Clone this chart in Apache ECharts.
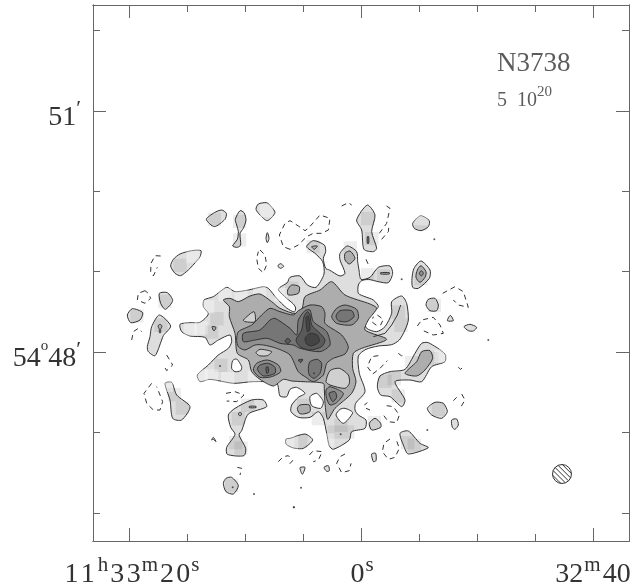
<!DOCTYPE html>
<html>
<head>
<meta charset="utf-8">
<title>N3738</title>
<script src="https://cdn.jsdelivr.net/npm/echarts@6/dist/echarts.min.js"></script>
<style>
html, body { margin: 0; padding: 0; background: #fff; }
#main { width: 632px; height: 588px; }
</style>
</head>
<body>
<div id="main"></div>
<script>
// all positions are sky offsets in arcsec from 11h33m00s, 54d48m (east is +x)
const raMajor = [174, 0, -174];
const raMinor = [130.5, 87, 43.5, -43.5, -87, -130.5];
const decMajor = [180.9, 0];
const decMinor = [241.2, 120.6, 60.3, -60.3, -120.6];

// outermost positive contour
const level1 = [
  [[135.75,20.75],[128.25,22],[120.75,22.25],[114.5,28.5],[118.25,34],[117.75,39],[110.75,41.5],[100.75,48.5],[94.5,45.25],[84.5,46.5],[73.25,49],[69.5,47.75],[63.25,40.25],[55.75,33],[50,30],[49,33],[50.75,36],[55.75,40.25],[62,46.5],[60.75,48.5],[55.25,52],[53.25,56],[45.75,57],[40.25,50.25],[33.75,48.5],[27.75,58.5],[28.75,67.75],[34.5,74],[40.75,79],[35.75,83.5],[27.5,80.25],[26.5,75.25],[28.25,70.25],[26.5,62.75],[23.75,61.5],[15.75,57],[12,59],[15.75,69],[15.75,74],[10.25,79.5],[3.25,75.25],[2.5,67.75],[1.5,61.5],[0,54.5],[-6.75,56],[-13,63.5],[-21.75,64.5],[-23.75,59],[-20.5,52],[-13,52.75],[-5.5,54.5],[-0.5,53.5],[2,50.25],[2,44],[-3,41.5],[-9.25,39],[-13,34],[-8,29],[-3,22.75],[-4.25,17.75],[-11.75,15.25],[-18,19],[-23,29],[-23,37.75],[-30.5,42],[-34.25,36.5],[-35.5,24],[-33,16.5],[-28.75,9],[-23,5.5],[-13,4.5],[-3.75,2],[2,-3],[1.25,-16],[-3,-29.75],[4,-38.5],[4.5,-43.5],[2,-47.25],[-3.75,-51],[-3,-57.25],[7,-59.75],[8.75,-66],[20.75,-73],[23.75,-70.5],[25.75,-61],[28.25,-49.75],[32,-44.75],[38.25,-49],[47,-49],[52.5,-44.75],[52,-39.75],[47,-34],[42,-31],[48.25,-26.5],[53.25,-28],[55.75,-33.5],[60.75,-33],[63.25,-23.5],[80.75,-22.25],[95.75,-23.5],[113.25,-20.5],[120.75,-22.25],[122.75,-17.25],[114.5,-9.75],[107,-2.25],[99.5,2.75],[97,7.75],[98.25,12.75],[107,9],[113.25,5.25],[117,11],[128.25,12],[134.5,15.25]],
  [[116,99.5],[110,104.5],[104.5,106.5],[101,104],[102,99.5],[110,94]],
  [[90.75,106],[87.75,104.5],[86.25,99],[88.25,92.75],[90.75,89],[90.25,80.25],[92.75,78.5],[96.25,79.5],[92.75,84.5],[92,90.25],[93.25,95.25],[94.25,99.5]],
  [[78.75,107],[77,111],[70.75,112],[67.75,109.5],[64.5,104.5],[70.25,98.5],[75.75,102.75]],
  [[70.25,89.5],[69,85.25],[70.25,82],[71.25,85.25]],
  [[142.75,64.5],[140.75,69.5],[135.75,73.5],[127,76],[120,76],[120.75,71.5],[125.25,66],[129.5,61.5],[135.25,57.25],[139.5,59]],
  [[62.5,64.5],[60.25,66.25],[58,64.25],[60.25,62.75]],
  [[151.25,44],[145.25,44.5],[141.25,38.5],[146.75,32],[150.25,36.5]],
  [[175.25,27.75],[171.5,32.5],[163.75,29.5],[165.75,24],[172.75,22]],
  [[157,19],[151.25,27.75],[142.75,19.5],[148.25,12.25],[149.5,9],[154.5,-2.75],[159.5,0.25],[160.25,4],[158.25,11.5]],
  [[3.25,99],[-4.75,110.25],[-10.5,102.75],[-8,90.25],[-11.75,77.75],[-9.25,75.25],[-2.25,77],[-0.5,91.5]],
  [[-38.75,96.5],[-44.75,102.25],[-51.25,98.5],[-50.5,94],[-45,91],[-40,92.75]],
  [[-38.25,55.25],[-39.75,62.75],[-45,68.25],[-51.75,61.5],[-51.25,55.25],[-43,47.75],[-38.75,48.5]],
  [[-48.75,35.25],[-50.5,39.5],[-55.5,40.25],[-58,35.25],[-56.75,31],[-51.75,31]],
  [[-64.75,23.5],[-67,27.5],[-69.25,23.5]],
  [[-77.25,19],[-81.75,20.75],[-86.75,18.5],[-84.25,15.75],[-80.5,16]],
  [[-12.25,-26],[-14.25,-18],[-21.75,-14.75],[-33,-13],[-40.5,-1],[-45.5,6.5],[-50.5,7],[-63,-1.5],[-63,-7.25],[-53,-11],[-45.5,-22.25],[-36.75,-21],[-25.5,-22.25],[-33,-36],[-30.5,-41],[-21.75,-33.5],[-14.75,-32.25]],
  [[-49.75,-42.25],[-55.5,-37.75],[-61.75,-38.5],[-64.75,-44.75],[-60.5,-49.75],[-53,-47.25]],
  [[-68,-51],[-71.75,-50.25],[-73,-54.75],[-70.5,-58],[-68.5,-56.5]],
  [[-6.25,-53.5],[-10.5,-49.75],[-14.75,-53.5],[-14.75,-56.5],[-8,-58.5]],
  [[-29.25,-61],[-35.5,-59.25],[-44.25,-68.5],[-50.5,-71.75],[-35.5,-76.5],[-32.25,-71]],
  [[56.25,-65.25],[53.25,-64.75],[42,-61.5],[36.25,-66],[43.25,-72.25],[49.5,-72.25],[53.25,-71],[56.25,-69]],
  [[-8,-76.5],[-11,-76],[-11.25,-81.5],[-9.25,-82.25]],
  [[27.75,-86.5],[24.5,-85.25],[23.75,-89],[25.75,-89.5]],
  [[45.75,-86.75],[42,-86.5],[44,-91.75]],
  [[147,-23.5],[142,-22.75],[138.25,-32.25],[128.25,-41],[134.5,-51],[141.25,-49.75],[143.25,-36]],
  [[99.5,-47.25],[94.5,-42.25],[82,-36],[73.25,-36],[70.75,-41],[84.5,-46.5],[89.5,-59],[91.5,-62.25],[86.5,-72.25],[87.75,-77.75],[100.25,-76.75],[100.75,-71.5],[94.5,-61.75],[97.75,-56.5]],
  [[103.25,-98.5],[101.25,-94.75],[97,-94],[92,-100.25],[95.75,-106.5],[101.25,-104.75]],
  [[112,-66],[110.75,-64],[108.75,-67.25],[110.75,-65.5]]
];
// white holes inside the outer contour
const holes = [
  [[97,-12.25],[96.25,-6.5],[93.25,-5.25],[89.5,-11],[90.25,-14],[94.5,-14.75]],
  [[22,-19.75],[19.5,-14.75],[14.5,-14],[11.25,-19.75],[14.5,-24.75],[20.75,-23]],
  [[38.25,-33.5],[33.25,-31],[28.25,-37.25],[30.25,-42.25],[37,-40.25]],
  [[18.75,-47.25],[15.75,-43],[12,-42.25],[6.25,-45.5],[13.25,-53.5]]
];
const level2 = [
  [[103.25,39],[98.25,40.25],[92,37.75],[83.25,42],[75.75,43.5],[67,37.75],[60.75,32.75],[48,28.5],[44,33],[42,41.5],[30.75,46.5],[22,52.75],[12,42.75],[-6.75,36],[-11.75,32.75],[-5.5,24],[-3,16.5],[-19.25,9.5],[-0.5,2.75],[5.75,-1],[6.25,-12.25],[3.75,-22.25],[7,-31],[19.5,-42.25],[25,-50.5],[27,-38.5],[27.5,-28.5],[28.25,-23.5],[43.5,-22.25],[52,-21.75],[58.25,-20.5],[65.75,-25.5],[75.75,-20.5],[82,-14.75],[84.5,-6],[92.75,-1],[94.5,14],[98.75,26.5],[98.75,34]],
  [[55,46.5],[52,50.25],[46.25,49],[47,44],[54.5,42.75]],
  [[12,74],[8.25,75.75],[4.5,70.25],[8.75,66],[12,69]],
  [[37,79],[32.75,79.5],[35,77]],
  [[111.75,19],[108.75,18.5],[110.25,15.75]],
  [[152.25,19.5],[150.75,20.75],[149.25,19.5],[150.25,17],[150.25,14.5],[151.25,14.5],[151.25,17]],
  [[-14.75,59.5],[-21.25,59.5],[-21.25,58.5],[-14.75,58.5]],
  [[-41.25,56],[-42.25,61.5],[-45,64.75],[-48.75,60.25],[-48,56],[-44.25,52.25]],
  [[-33,-16],[-41.75,-7.25],[-45.5,0.25],[-51.75,1],[-53.75,-4.75],[-48,-13.5],[-41.75,-18]],
  [[47.75,-42.25],[45.75,-39.75],[38.75,-39.75],[38.25,-44.75],[43.25,-46.5],[46.25,-46]],
  [[83.75,-40.75],[78.75,-40.75],[78.75,-41.75],[83.75,-41.75]],
  [[92,-46.5],[90.75,-45],[89.5,-46.5],[90.75,-48]]
];
// paler islands inside the second contour
const islands = [
  [[88.25,24],[80.25,30.25],[79.5,22.75],[87,22.75]],
  [[78.75,-0.5],[75.75,2],[67,0.25],[70.25,-2.75],[76.25,-2.75]],
  [[26.25,-22.25],[23.25,-14],[16.25,-12.25],[9.5,-17.25],[8.75,-23.5],[12,-27.25],[23.25,-24.75]]
];
const level3 = [
  [[93.25,9],[92,15.25],[82,20.25],[74.5,27.75],[68.25,32.75],[60.75,30.25],[50.75,27.75],[47,31],[38.25,35.25],[29.5,34],[27,29],[27,21.5],[14.5,12.75],[9.5,4],[12,-1.5],[20.75,-4.75],[25.75,-8.5],[28.25,-17.25],[35.75,-22.25],[41.25,-19],[47,-14.75],[53.25,-2.25],[63.25,2.75],[73.25,5.25],[79.5,5.25],[87,1.5],[92,4]],
  [[22,26.5],[18.25,32.75],[12,35.25],[3.25,32],[2,25.25],[7,20.25],[18.25,21.5]],
  [[80.75,-13.5],[78.25,-8.5],[70.25,-6],[62,-9.75],[60.25,-14.75],[67,-18.5],[75.75,-19]],
  [[26.25,-28.5],[23.25,-26],[13.25,-31],[18.25,-38],[23.25,-39.75],[25.75,-34.75]],
  [[-43.75,59],[-45.25,61],[-46.75,59],[-45.25,57]]
];
const level4 = [
  [[88.25,14],[75.75,16.5],[68.25,24],[64.5,25.25],[53.25,17.75],[48.25,12.75],[47,24],[42,31],[38.25,31.5],[35.75,22.75],[25.75,15.25],[23.25,5.25],[30.75,0.25],[45.75,2.75],[50.75,5.25],[60.75,6.5],[70.25,10.25],[79.5,9],[88.25,7.75]],
  [[38.25,-7.25],[32.75,-5.5],[29.5,-8.5],[30.75,-16],[35.25,-19.75],[38.75,-17.25],[39.5,-12.25]],
  [[18.75,27],[15.75,31],[7,31],[5.25,26.5],[10.75,22.75],[17,23.5]],
  [[77.75,-13],[75.75,-9.75],[69.5,-8.5],[64.5,-11.5],[64.5,-16],[73.25,-18]],
  [[24,-31],[19.5,-29.75],[18.25,-34],[21.25,-37.25]],
  [[-4.75,86.5],[-5.75,86.5],[-5.75,81.5],[-4.75,81.5]]
];
const level5 = [
  [[48.75,9],[44.5,16.5],[42.75,26.5],[40.25,30.25],[38.25,27.75],[37,20.25],[30.75,14],[27,9],[29.5,4],[38.25,1.5],[45.75,4]],
  [[57,8.25],[55,10.25],[52.75,8.25],[55,6.25]],
  [[47,-6],[43.75,-5.5],[45.25,-8]],
  [[71.25,-11.5],[69.5,-11.5],[69.5,-15.5],[70.75,-16]]
];
const level6 = [
  [[42,10.25],[38.25,14],[32.75,12.75],[31.25,7.75],[37,4.5],[40.75,6]],
  [[41.25,26],[39.5,27],[38.25,16.5],[40.25,15.25]]
];
// negative contours, dashed in the plot
const dashedLines = [
  [[53.25,77],[58.25,79],[61.25,87.75],[57,96.5],[53.25,98.5],[47,94.5],[42,91],[39.5,92.75],[30.75,102.75],[23.25,100.25],[24.5,91.5],[29.5,89],[35.75,89],[40.75,86.5],[47,80.25],[53.25,77]],
  [[75.75,76.5],[72,72.75],[70.75,65.25],[73.25,59.5],[77,62.75],[78.25,70.25],[77,75.25]],
  [[150.25,72],[154.5,72.25],[157.5,66.5],[157.75,60.25],[155.75,57],[152.75,63.5]],
  [[162,46],[167,44],[167.75,39],[162,36.5],[157.75,40.25],[159.5,44],[162,46]],
  [[172,9],[170.75,15.25],[167,17.75],[164.5,15.25]],
  [[145.75,-2.25],[141.25,-9.75],[145.75,-14],[147.5,-11]],
  [[157,-23.5],[162.75,-31],[160.75,-38.5],[155.75,-43.5],[150.75,-43.5],[148.75,-37.25],[153.25,-26]],
  [[101.25,-31],[94.5,-29.75],[87.75,-32.25],[93.25,-37.25],[100.75,-36.75]],
  [[92.75,-86.5],[89.5,-87.25],[90.75,-92.25]],
  [[62,-82.25],[58.25,-78.5],[54.5,-77.75],[51.25,-81.5],[55,-85.5]],
  [[14.5,109.5],[9.5,112],[7,110.25]],
  [[-13.75,89],[-19.25,96.5],[-21.75,107.75],[-18.75,109.75]],
  [[-15.5,84.5],[-20.5,90.25],[-21,95.25]],
  [[-3.75,69.5],[-6.25,64]],
  [[-61.25,44],[-70.5,49],[-76.75,45.25],[-80.5,33.5],[-73,35.25],[-69.25,39]],
  [[-42.25,19.5],[-45.5,24],[-54.25,26],[-59.25,20.25],[-61.75,14],[-54.25,12.75],[-45.5,16.5]],
  [[-12.25,27.75],[-16.75,24.5],[-14.75,20.25],[-11.25,20.25],[-8,22.75],[-9.25,26.5]],
  [[-13,-2.75],[-8,-3.5],[-4.75,-11],[-8.75,-16.5],[-14.25,-12.25],[-19.75,-6.5]],
  [[-28,-1],[-30.5,-3],[-32.25,-1]],
  [[-73,-11.5],[-74.75,-13],[-76.75,-11]],
  [[-2.5,-39.75],[-4.75,-38]],
  [[-3.75,-42.25],[-6.75,-43.5]],
  [[-19.25,-40.25],[-24.25,-41],[-28.75,-47.25],[-26.75,-53],[-20.5,-52.25],[-16.75,-47.25]],
  [[-21.75,-65.25],[-17.25,-68.5],[-16,-74.75],[-20.5,-80.5],[-25.5,-79],[-28.75,-72.25],[-26.25,-65.25]],
  [[38.75,-77.25],[35.75,-74],[29,-74.75],[32,-81],[35.75,-82.25]],
  [[12,-76.5],[15.75,-78.5],[18.25,-83.5],[14.5,-90.5],[8.75,-89],[7.5,-83.5]],
  [[-75.5,-31.5],[-78,-36],[-75,-41]],
  [[-69.25,-36.5],[-71.75,-34]]
];
const openLines = [
  [[-29.75,35.25],[-27.25,27.75],[-23,20.25],[-18,14],[-9.25,11.5]]
];
const dots = [[105.75,-10.5],[15.25,-61.75],[35.25,-16],[-30.5,54.5],[-55,84.5],[45,-101.75],[50.25,-116.5],[-49.75,-58.5],[80.25,-106.5],[50.5,-116.5],[96.25,-101.5],[-95.5,9]];
// map cells that read darker or paler than the rest of the outer contour
const darkCells = [[135.75,65],[110,99.5],[91,98],[91,84],[147,38],[168,27],[150,20],[134,-42],[140,-32],[-5,100],[-8,85],[-45,96],[-45,55],[-55,35],[-58,-43],[-53,-5],[-38,-8],[-25,-20],[-18,-22],[-28,-33],[-40,-70],[-35,-68],[-10,-53],[-5,58],[-17,57],[90,-72],[94,-68],[92,-50],[85,-40],[97,-100],[45,-67],[20,-60],[15,-55],[10,-60],[32,-50],[43,-40],[8,78],[36,79],[52,48],[108,25],[105,-10],[112,15],[72,-15],[-30,20],[-28,30]];
const paleCells = [[128,17],[120,18],[102,43],[115,34],[60,43],[76,45],[90,43],[120,-18],[112,-18],[100,-20],[80,-19],[-5,48],[71,106],[-45,100],[126,72],[146,-25],[25,-66],[52,-68],[-60,-3]];
const beam = { x: -150.75, y: -91.5, radius: 7.1 };
const annotations = [
  { x: -102, y: 216, text: '{t|N3738}' },
  { x: -102, y: 190.5, text: '{m|5  10}{u|20}' }
];

const serif = '"Liberation Serif", serif';
const ink = '#333';
const hair = '\u200a';
const raText = {
  '174': '{a|1' + hair + '1}{s|h}{n|3' + hair + '3}{s|m}{n|2' + hair + '0}{s|s}',
  '0': '{b|0}{s|s}',
  '-174': '{n|32}{s|m}{n|40}'
};
const decText = { '180.9': '{n|51}{p|′}', '0': '{n|54}{o|o}{n|48}{p|′}' };
const richText = {
  n: { fontFamily: serif, fontSize: 28, color: ink, lineHeight: 34, verticalAlign: 'bottom' },
  a: { fontFamily: serif, fontSize: 28, color: ink, lineHeight: 34, verticalAlign: 'bottom', padding: [0, 2, 0, 8] },
  b: { fontFamily: serif, fontSize: 28, color: ink, lineHeight: 34, verticalAlign: 'bottom', padding: [0, 0, 0, 4] },
  s: { fontFamily: serif, fontSize: 21, color: ink, lineHeight: 34, verticalAlign: 'top', padding: [0, 2, 0, 1] },
  o: { fontFamily: serif, fontSize: 15, color: ink, lineHeight: 34, verticalAlign: 'top' },
  p: { fontFamily: serif, fontSize: 22, color: ink, lineHeight: 34, verticalAlign: 'top' }
};

function axisSet(dim, major, minor, range, labels, sides) {
  const axes = [];
  sides.forEach((side, i) => {
    [major, minor].forEach((vals, j) => {
      axes.push({
        type: 'value', position: side, min: range[0], max: range[1], inverse: dim === 'x',
        splitLine: { show: false },
        axisLine: { show: true, onZero: false, lineStyle: { color: '#666', width: 1 } },
        axisTick: { show: true, inside: true, length: j === 0 ? 13 : 7, customValues: vals, lineStyle: { color: '#666', width: 1 } },
        axisLabel: (i === 0 && j === 0)
          ? { show: true, customValues: vals, margin: dim === 'x' ? 14 : 12, hideOverlap: false, padding: dim === 'x' ? 0 : [8, 0, 0, 0], formatter: v => labels[String(v)] || '', rich: richText }
          : { show: false }
      });
    });
  });
  return axes;
}

function ringSeries(rings, fill, z) {
  return {
    type: 'custom', coordinateSystem: 'cartesian2d', silent: true, animation: false, z: z, clip: true,
    data: rings.map(r => r[0]),
    renderItem: function (params, api) {
      const pts = rings[params.dataIndex].map(p => api.coord(p));
      return { type: 'polygon', shape: { points: pts, smooth: 0.25 }, style: { fill: fill, stroke: ink, lineWidth: 1 } };
    }
  };
}

function cellSeries(cells, fill, z) {
  return {
    type: 'custom', coordinateSystem: 'cartesian2d', silent: true, animation: false, z: z, clip: true,
    data: cells,
    renderItem: function (params, api) {
      const c = api.coord([api.value(0), api.value(1)]);
      const s = api.size([10, 10]);
      return { type: 'rect', shape: { x: c[0] - s[0] / 2, y: c[1] - s[1] / 2, width: s[0], height: s[1] }, style: { fill: fill } };
    }
  };
}

const series = [
  ringSeries(level1, '#dedede', 2),
  cellSeries(darkCells, 'rgba(0,0,0,0.07)', 3),
  cellSeries(paleCells, 'rgba(255,255,255,0.35)', 3),
  ringSeries(holes, '#ffffff', 4),
  ringSeries(level2, '#adadad', 5),
  ringSeries(islands, '#d0d0d0', 6),
  ringSeries(level3, '#909090', 7),
  ringSeries(level4, '#767676', 8),
  ringSeries(level5, '#5a5a5a', 9),
  ringSeries(level6, '#444444', 10)
];
dashedLines.forEach(line => series.push({
  type: 'line', data: line, symbol: 'none', silent: true, animation: false, z: 11,
  lineStyle: { color: ink, width: 1, type: [5, 4] }
}));
openLines.forEach(line => series.push({
  type: 'line', data: line, symbol: 'none', silent: true, animation: false, z: 11,
  lineStyle: { color: ink, width: 1 }
}));
series.push({
  type: 'scatter', data: dots, symbol: 'circle', symbolSize: 2, silent: true, animation: false, z: 11,
  itemStyle: { color: ink }
});
// synthesized beam with its hatching
series.push({
  type: 'custom', coordinateSystem: 'cartesian2d', silent: true, animation: false, z: 11,
  data: [[beam.x, beam.y]],
  renderItem: function (params, api) {
    const c = api.coord([beam.x, beam.y]);
    const r = api.size([beam.radius, beam.radius])[0];
    const kids = [{ type: 'circle', shape: { cx: c[0], cy: c[1], r: r }, style: { fill: '#fff', stroke: ink, lineWidth: 1 } }];
    const k = Math.SQRT1_2;
    for (let d = -r + 2; d < r; d += 3.6) {
      const h = Math.sqrt(r * r - d * d);
      kids.push({
        type: 'line',
        shape: { x1: c[0] + k * d - k * h, y1: c[1] - k * d - k * h, x2: c[0] + k * d + k * h, y2: c[1] - k * d + k * h },
        style: { stroke: ink, lineWidth: 1 }
      });
    }
    return { type: 'group', children: kids };
  }
});
series.push({
  type: 'scatter', symbolSize: 0, silent: true, animation: false, z: 12,
  data: annotations.map(a => ({ value: [a.x, a.y], text: a.text })),
  label: {
    show: true, position: 'right', distance: 0,
    formatter: p => p.data.text,
    rich: {
      t: { fontFamily: serif, fontSize: 27, color: ink },
      m: { fontFamily: serif, fontSize: 20, color: ink, lineHeight: 26, verticalAlign: 'bottom' },
      u: { fontFamily: serif, fontSize: 15, color: ink, lineHeight: 26, verticalAlign: 'top' }
    }
  }
});

const chart = echarts.init(document.getElementById('main'), null, { renderer: 'canvas' });
chart.setOption({
  animation: false,
  backgroundColor: '#fff',
  grid: { left: 93, top: 5, width: 536, height: 536, containLabel: false, outerBoundsMode: 'none' },
  xAxis: axisSet('x', raMajor, raMinor, [-201, 201], raText, ['bottom', 'top']),
  yAxis: axisSet('y', decMajor, decMinor, [-141.75, 260.25], decText, ['left', 'right']),
  series: series
});
</script>
</body>
</html>
